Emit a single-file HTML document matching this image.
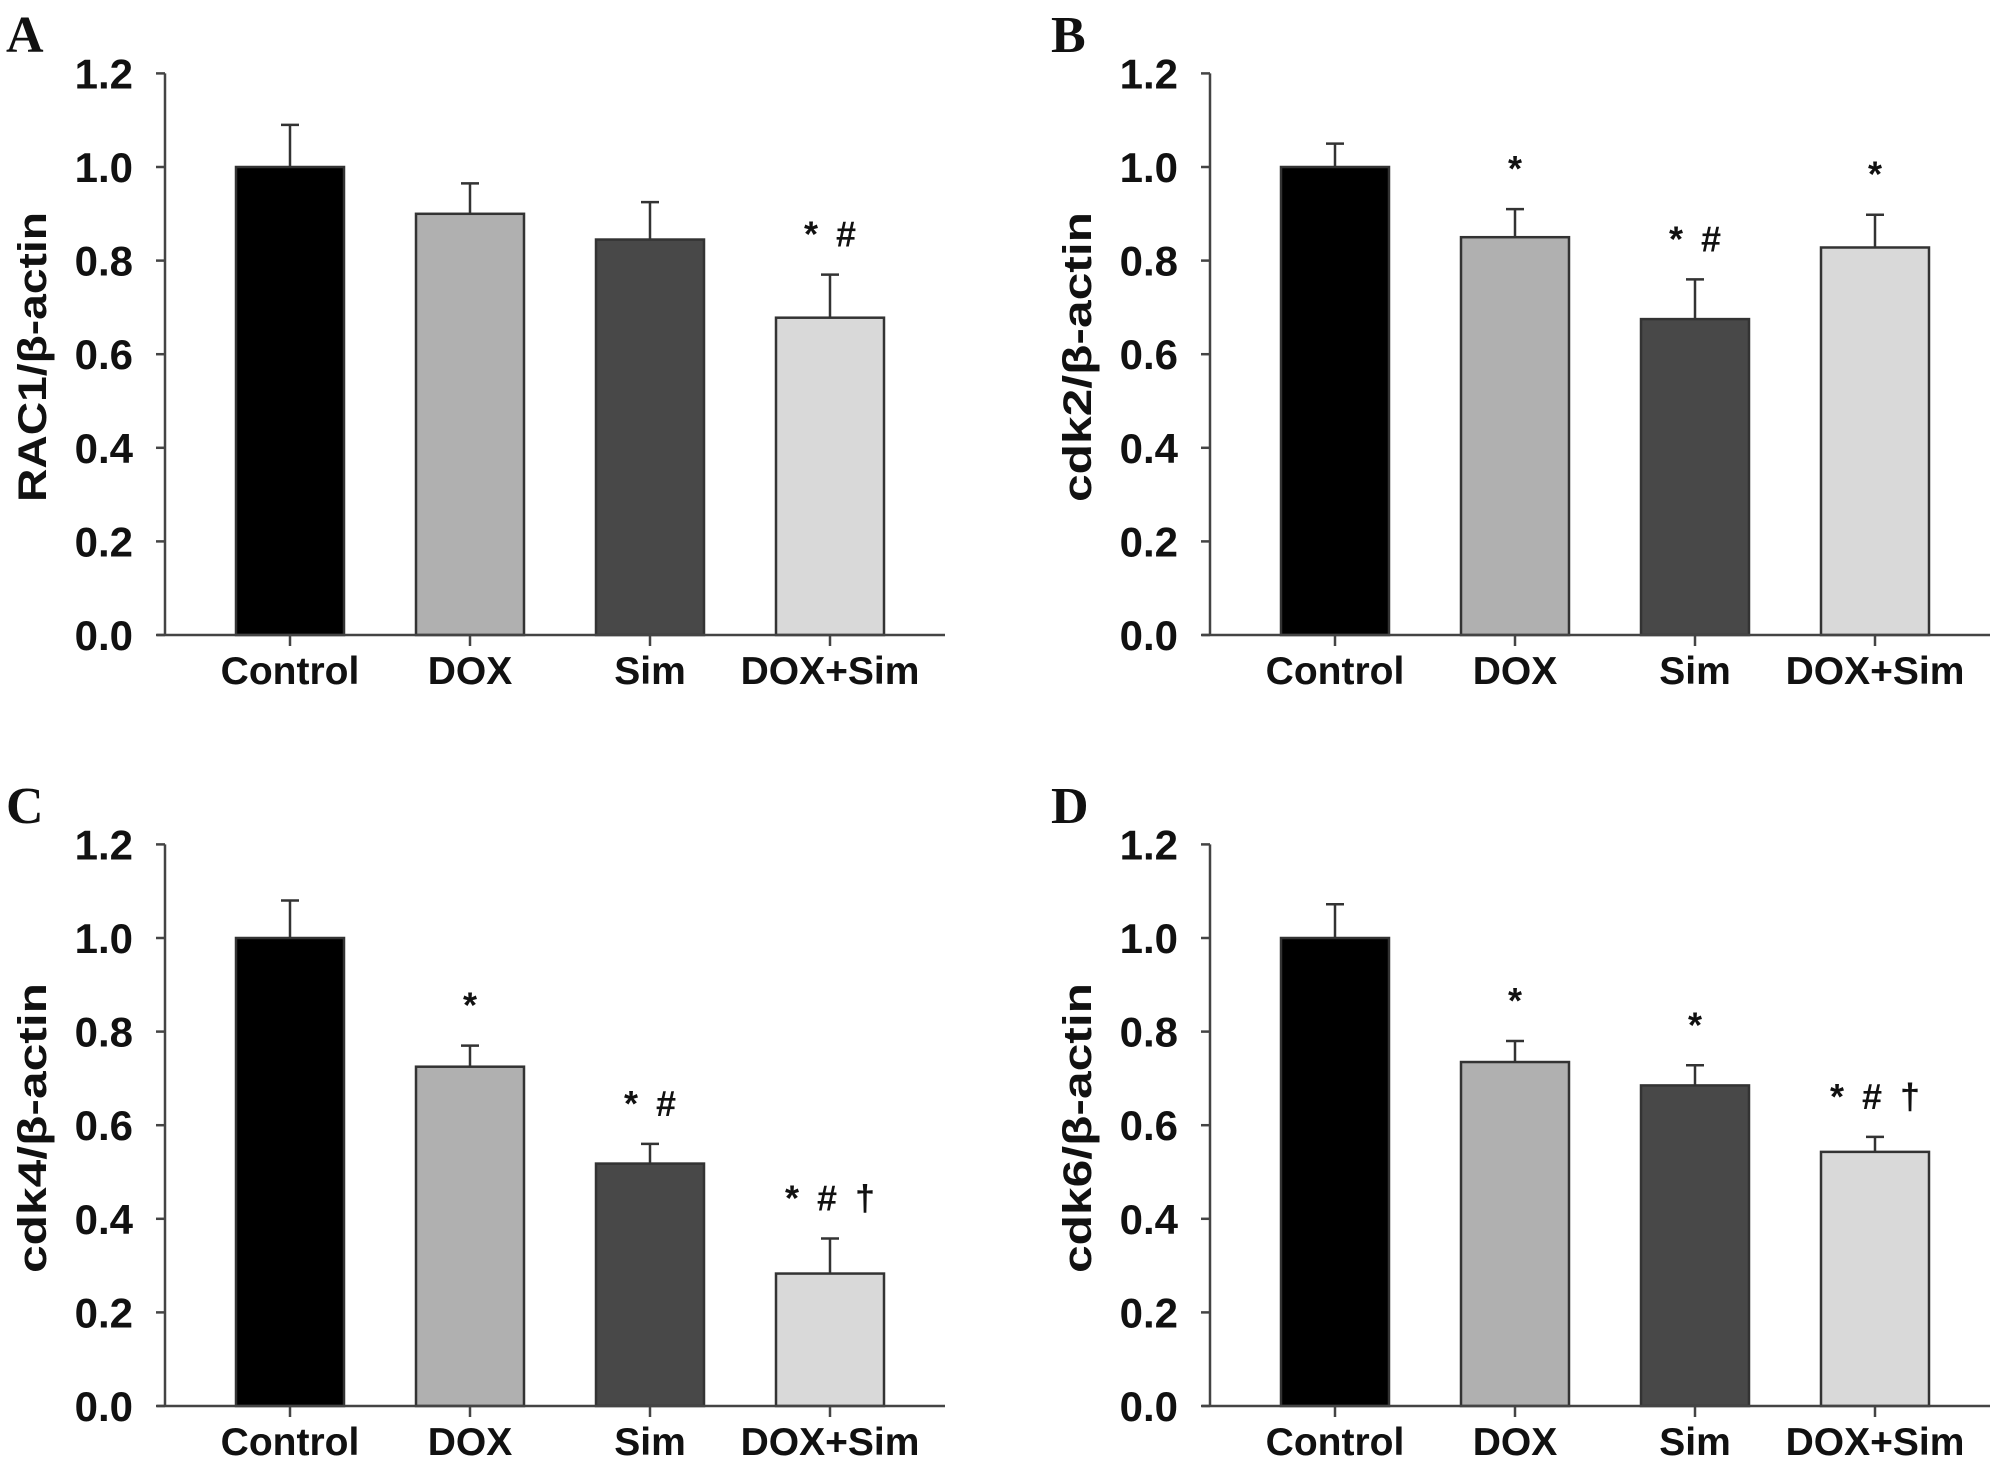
<!DOCTYPE html>
<html><head><meta charset="utf-8"><style>
html,body{margin:0;padding:0;background:#fff;}
svg{display:block;}
text{font-family:"Liberation Sans",Arial,sans-serif;font-weight:bold;fill:#111;}
.letter{font-family:"Liberation Serif","Times New Roman",serif;font-size:52px;}
</style></head><body>
<svg id="fig" width="2008" height="1465" viewBox="0 0 2008 1465" xmlns="http://www.w3.org/2000/svg"></svg>
<script>
const categories = ["Control","DOX","Sim","DOX+Sim"];
const yTicks = [0.0,0.2,0.4,0.6,0.8,1.0,1.2];
const tickLabels = ["0.0","0.2","0.4","0.6","0.8","1.0","1.2"];
const panelLetters = ["A","B","C","D"];
const yTitles = ["RAC1/β-actin","cdk2/β-actin","cdk4/β-actin","cdk6/β-actin"];
const valuesA = [1.0,0.9,0.845,0.678];
const errorsA = [0.09,0.065,0.08,0.092];
const marksA = ["","","","* #"];
const valuesB = [1.0,0.85,0.675,0.828];
const errorsB = [0.05,0.06,0.085,0.07];
const marksB = ["","*","* #","*"];
const valuesC = [1.0,0.725,0.518,0.283];
const errorsC = [0.08,0.045,0.042,0.075];
const marksC = ["","*","* #","* # †"];
const valuesD = [1.0,0.735,0.685,0.543];
const errorsD = [0.072,0.045,0.043,0.032];
const marksD = ["","*","*","* # †"];

const NS="http://www.w3.org/2000/svg";
const svg=document.getElementById('fig');
const colors=["#000000","#b0b0b0","#484848","#d9d9d9"];
function mk(tag,attrs,parent){const e=document.createElementNS(NS,tag);for(const k in attrs)e.setAttribute(k,attrs[k]);(parent||svg).appendChild(e);return e;}

function panel(idx,ox,oy,vals,errs,marks){
  const g=mk('g',{});
  
  
  const axX=165+ox, y0=635+oy, scale=468;
  const yS=v=>y0-v*scale;
  const xS=i=>290+i*180+ox;
  const L=mk('text',{x:6+ox,y:52+oy,class:'letter'},g);L.textContent=panelLetters[idx];
  
  
  vals.forEach((v,i)=>{
    const r=mk('rect',{x:xS(i)-54,y:yS(v),width:108,height:v*scale,fill:colors[i],stroke:'#333','stroke-width':2.5},g);
    
    
    const top=yS(v+errs[i]);
    const e=mk('path',{d:`M${xS(i)} ${yS(v)}V${top}M${xS(i)-9} ${top}H${xS(i)+9}`,stroke:'#333','stroke-width':2.5,fill:'none'},g);
    
    
    if(marks[i]){
      const t=mk('text',{x:xS(i),y:top-28,'text-anchor':'middle','font-size':36},g);
      t.textContent=marks[i].replace(/ /g,'\u2002');
      
      
    }
    const tk=mk('line',{x1:xS(i),x2:xS(i),y1:y0,y2:y0+11,stroke:'#444','stroke-width':2.5},g);
    
    
    const xl=mk('text',{x:xS(i),y:y0+49,'text-anchor':'middle','font-size':39},g);
    xl.textContent=categories[i];
    
    
  });
  const ax=mk('path',{d:`M${axX} ${yS(1.2)}V${y0}M${axX-8} ${y0}H${axX+780}`,stroke:'#444','stroke-width':2.5,fill:'none'},g);
  
  
  yTicks.forEach((t,k)=>{
    const l=mk('line',{x1:axX-9,x2:axX,y1:yS(t),y2:yS(t),stroke:'#444','stroke-width':2.5},g);
    
    
    const tl=mk('text',{x:133+ox,y:yS(t)+15,'text-anchor':'end','font-size':42},g);
    tl.textContent=tickLabels[k];
    
    
  });
  const yt=mk('text',{x:0,y:0,'text-anchor':'middle','font-size':40,transform:`translate(${46+ox},${357+oy}) rotate(-90)`,textLength:290,lengthAdjust:'spacingAndGlyphs'},g);
  yt.textContent=yTitles[idx];
  
  
}
panel(0,0,0,valuesA,errorsA,marksA);
panel(1,1045,0,valuesB,errorsB,marksB);
panel(2,0,771,valuesC,errorsC,marksC);
panel(3,1045,771,valuesD,errorsD,marksD);
</script>
</body></html>
